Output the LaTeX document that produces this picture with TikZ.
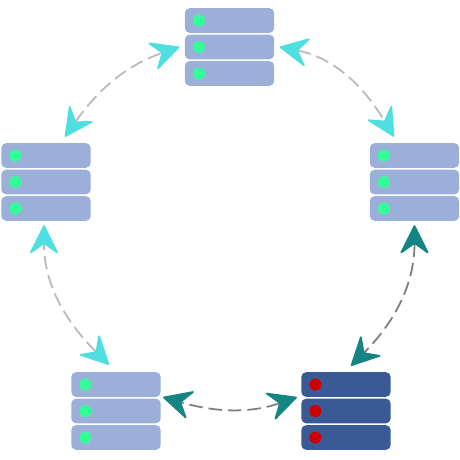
\documentclass[tikz,border=0pt]{standalone}
\usetikzlibrary{arrows.meta}
\definecolor{rowlight}{HTML}{9BAFD9}
\definecolor{rowdark}{HTML}{3A5A96}
\definecolor{ledgreen}{HTML}{33FF99}
\definecolor{ledred}{HTML}{CC0000}
\definecolor{tipcyan}{HTML}{50DFE0}
\definecolor{tipteal}{HTML}{148583}
\definecolor{linelight}{HTML}{BBBBBB}
\definecolor{linedark}{HTML}{808080}

\begin{document}
\begin{tikzpicture}[
    x=0.02cm, y=-0.02cm,
    rowbox/.style={rectangle, rounded corners=0.1cm, fill=#1, minimum width=1.79cm, minimum height=0.495cm, inner sep=0pt},
    led/.style={circle, fill=#1, minimum size=0.24cm, inner sep=0pt},
    link/.style 2 args={{Stealth[length=0.62cm, width=0.62cm, inset=0.22cm, round, line width=1pt, color=#2]}-{Stealth[length=0.62cm, width=0.62cm, inset=0.22cm, round, line width=1pt, color=#2]}, draw=#1, line width=0.036cm, dash pattern=on 0.27cm off 0.12cm}
]
\useasboundingbox (0,0) rectangle (460,460);
% server stacks
\foreach \nm/\px/\py/\rowcol/\ledcol in {top/229.5/20.5/rowlight/ledgreen, right/414.5/155.5/rowlight/ledgreen, left/46/155.5/rowlight/ledgreen, low/116/384.5/rowlight/ledgreen, bad/346/384.5/rowdark/ledred} {
    \foreach \i in {1,2,3} {
        \node[rowbox=\rowcol] (\nm\i) at (\px,\py+\i*26.5-26.5) {};
        \node[led=\ledcol] (\nm led\i) at ([xshift=0.29cm]\nm\i.west) {};
    }
}
% healthy links
\draw[link={linelight}{tipcyan}] ([xshift=0.1cm]top2.east) to[out=-11, in=121] ([xshift=-0.41cm,yshift=0.12cm]right1.north);
\draw[link={linelight}{tipcyan}] ([xshift=0.38cm,yshift=0.12cm]left1.north) to[out=55, in=199] ([xshift=-0.1cm]top2.west);
\draw[link={linelight}{tipcyan}] ([xshift=-0.14cm,yshift=0.14cm]low1.north) to[out=135, in=270] ([xshift=-0.04cm,yshift=-0.08cm]left3.south);
% links to the failed stack
\draw[link={linedark}{tipteal}] ([yshift=-0.08cm]right3.south) to[out=270, in=45] ([xshift=0.1cm,yshift=0.12cm]bad1.north);
\draw[link={linedark}{tipteal}] ([xshift=-0.08cm]bad1.south west) to[out=199, in=-16] ([xshift=0.04cm]low1.south east);
\end{tikzpicture}
\end{document}
